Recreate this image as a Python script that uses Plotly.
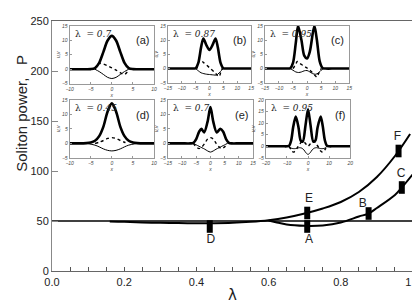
import plotly.graph_objects as go

# ---------------- main chart data ----------------
lam_upper = [0.16, 0.2, 0.25, 0.3, 0.35, 0.4, 0.45, 0.5, 0.55, 0.6, 0.65, 0.7, 0.75, 0.8, 0.85, 0.9, 0.95, 0.992]
P_upper = [49.5, 49.2, 48.6, 48.2, 47.9, 47.8, 47.8, 48.2, 49.2, 50.8, 53.5, 57.5, 62.5, 69, 79, 94, 115, 137]

lam_lower = [0.6, 0.62, 0.65, 0.7, 0.75, 0.8, 0.85, 0.877, 0.9, 0.95, 0.969, 1.0]
P_lower = [50.5, 48.8, 46.5, 45.2, 45.6, 48.5, 54.5, 57.5, 63, 76, 83.5, 97]

lam_ref = [0.0, 1.0]
P_ref = [50, 50]

mark_labels = ["D", "A", "E", "B", "C", "F"]
mark_lam = [0.437, 0.707, 0.707, 0.877, 0.969, 0.96]
mark_P = [44.5, 44.5, 58, 57.5, 83.5, 120]
label_lam = [0.44, 0.712, 0.712, 0.861, 0.967, 0.957]
label_P = [31, 31, 72, 67.5, 97, 134]

x_ticks = [0.0, 0.2, 0.4, 0.6, 0.8, 1.0]
x_tick_text = ["0.0", "0.2", "0.4", "0.6", "0.8", "1.0"]
y_ticks = [0, 50, 100, 150, 200, 250]

# ---------------- inset data ----------------
# (a) lambda = 0.7
xa_u = [-10, -8, -6, -5, -4, -3, -2, -1, 0, 1, 2, 3, 4, 5, 6, 8, 10]
ua = [0, 0, 0, 0.05, 0.4, 2.2, 6.0, 9.9, 11.5, 9.9, 6.0, 2.2, 0.4, 0.05, 0, 0, 0]
xa_v = [-4, -3.5, -3, -2, -1, 0, 1, 2, 3, 3.5, 4]
va = [0, 1.4, 2.0, 1.8, 1.2, 0.5, -0.3, -1.2, -1.8, -1.2, 0]
xa_w = [-4, -3, -2, -1, 0, 1, 2, 3, 4]
wa = [0, -0.8, -1.8, -2.8, -3.2, -2.8, -1.8, -0.8, 0]

# (b) lambda = 0.87
xb_u = [-15, -10, -6, -5, -4, -3, -2.2, -1, 0, 1, 2.2, 3, 4, 5, 6, 10, 15]
ub = [0, 0, 0, 0.1, 2.0, 7.5, 10.5, 8.0, 6.5, 8.0, 10.5, 7.5, 2.0, 0.1, 0, 0, 0]
xb_v = [-4.5, -4, -3.5, -2, 0, 2, 3, 3.5, 4, 4.5]
vb = [0, 2.0, 3.0, 2.0, 0.3, -1.5, -2.5, -2.8, -1.5, 0]
xb_w = [-5, -4, -3, -2, -1, 0, 1, 2, 2.5, 3, 4, 5]
wb = [0, -0.8, -1.5, -1.8, -2.0, -2.1, -2.2, -2.3, -2.3, -2.0, -1.0, 0]

# (c) lambda = 0.95
xc_u = [-15, -10, -7, -6, -5, -4, -3.2, -2, -1, 0, 1, 2.6, 3.5, 4.5, 5.5, 6.5, 10, 15]
uc = [0, 0, 0, 0.1, 2, 9, 15, 10, 4.5, 3.5, 6, 15, 10, 2.5, 0.2, 0, 0, 0]
xc_v = [-5, -4, -3.5, -3, -2, -1, 0, 1, 2, 3, 3.5, 4, 5]
vc = [0, 1.5, 2.5, 2.2, 1.4, 0.8, 0.2, -0.6, -1.5, -2.6, -3.0, -2.0, 0]
xc_w = [-6, -5, -4, -3, -2, -1, 0, 1, 2, 3, 4, 5, 6]
wc = [0, -0.6, -1.2, -1.4, -1.2, -0.8, -0.7, -1.2, -1.8, -2.0, -1.6, -0.6, 0]

# (d) lambda = 0.45
xd_u = [-10, -8, -6, -5, -4, -3, -2, -1, 0, 1, 2, 3, 4, 5, 6, 8, 10]
ud = [0, 0, 0.1, 0.3, 0.9, 2.5, 5.8, 11.0, 13.8, 11.0, 5.8, 2.5, 0.9, 0.3, 0.1, 0, 0]
xd_v = [-4, -3, -2, -1, 0, 1, 2, 3, 4]
vd = [0, 0.4, 1.0, 1.7, 2.0, 1.7, 1.0, 0.4, 0]
xd_w = [-6, -4, -3, -2, -1, 0, 1, 2, 3, 4, 6]
wd = [0, -0.6, -1.2, -1.9, -2.4, -2.6, -2.4, -1.9, -1.2, -0.6, 0]

# (e) lambda = 0.7
xe_u = [-15, -10, -7, -6, -5, -4, -3.2, -2.2, -1, 0, 1, 2.2, 3.5, 4.5, 5.5, 6.5, 7.5, 10, 15]
ue = [0, 0, 0, 0.2, 1.5, 4.0, 5.0, 3.8, 7.5, 12.5, 7.5, 3.8, 5.0, 4.0, 1.5, 0.2, 0, 0, 0]
xe_v = [-6, -5, -4, -3, -2, -1, 0, 1, 2, 3, 4, 5, 6]
ve = [0, -1.2, -1.8, -1.2, 0, 1.5, 2.0, 1.5, 0, -1.2, -1.8, -1.2, 0]
xe_w = [-6, -5, -4, -3, -2, -1, 0, 1, 2, 3, 4, 5, 6]
we = [0, -0.5, -1.0, -1.5, -2.0, -2.6, -3.0, -2.6, -2.0, -1.5, -1.0, -0.5, 0]

# (f) lambda = 0.95
xf_u = [-20, -12, -10, -9, -8, -7, -5.8, -4.5, -3.5, -2.5, -1.2, 0, 1.2, 2.5, 3.5, 4.5, 6, 7, 8, 9, 10, 12, 20]
uf = [0, 0, 0, 0.2, 2.5, 8.5, 12.8, 8, 2.5, 2, 9, 16, 9, 2, 2.5, 8, 12.8, 8.5, 2.5, 0.2, 0, 0, 0]
xf_v = [-9, -8, -7, -6, -5, -4, -3, -2, -1, 0, 1, 2, 3, 4, 5, 6, 7, 8, 9]
vf = [0, -1.5, -2.5, -2.0, -0.5, 0.8, 2.0, 2.0, 1.0, 0, 1.0, 2.0, 2.0, 0.8, -0.5, -2.0, -2.5, -1.5, 0]
xf_w = [-9, -8, -7, -6, -5, -4, -3, -2, -1, 0, 1, 2, 3, 4, 5, 6, 7, 8, 9]
wf = [0, -0.8, -1.0, -1.0, -0.8, -0.6, -0.8, -1.5, -2.8, -3.5, -2.8, -1.5, -0.8, -0.6, -0.8, -1.0, -1.0, -0.8, 0]

inset_tags = ["(a)", "(b)", "(c)", "(d)", "(e)", "(f)"]
inset_lams = ["0.7", "0.87", "0.95", "0.45", "0.7", "0.95"]
inset_xrange = [[-10, 10], [-15, 15], [-15, 15], [-10, 10], [-15, 15], [-20, 20]]
inset_xticks = [[-10, -5, 0, 5, 10], [-15, -10, -5, 0, 5, 10, 15], [-15, -10, -5, 0, 5, 10, 15],
                [-10, -5, 0, 5, 10], [-15, -10, -5, 0, 5, 10, 15], [-20, -10, 0, 10, 20]]
inset_yrange = [[-5, 15], [-5, 15], [-5, 15], [-5, 15], [-5, 15], [-5, 20]]
inset_yticks = [[-5, 0, 5, 10, 15]] * 5 + [[-5, 0, 5, 10, 15, 20]]
inset_data = [
    (xa_u, ua, xa_v, va, xa_w, wa),
    (xb_u, ub, xb_v, vb, xb_w, wb),
    (xc_u, uc, xc_v, vc, xc_w, wc),
    (xd_u, ud, xd_v, vd, xd_w, wd),
    (xe_u, ue, xe_v, ve, xe_w, we),
    (xf_u, uf, xf_v, vf, xf_w, wf),
]

# ---------------- layout geometry (pixels) ----------------
W, H = 420, 300
PL, PR, PT, PB = 44, 412, 7, 270  # main plot area


def px_x(p):
    return (p - PL) / (PR - PL)


def px_y(p):
    return (PB - p) / (PB - PT)


inset_boxes = [  # left, right, top, bottom in pixels
    (62, 148, 12, 73), (162, 247, 12, 72), (261, 347, 12, 72),
    (62, 148, 90, 151), (162, 249, 90, 151), (262, 348, 90, 151),
]

FONT = "Liberation Sans"
fig = go.Figure()

# main traces
fig.add_trace(go.Scatter(x=lam_ref, y=P_ref, mode="lines", line=dict(color="black", width=1.3),
                         showlegend=False, hoverinfo="skip"))
fig.add_trace(go.Scatter(x=lam_upper, y=P_upper, mode="lines", line=dict(color="black", width=2, shape="spline"),
                         showlegend=False))
fig.add_trace(go.Scatter(x=lam_lower, y=P_lower, mode="lines", line=dict(color="black", width=2, shape="spline"),
                         showlegend=False))
fig.add_trace(go.Scatter(x=mark_lam, y=mark_P, mode="markers",
                         marker=dict(symbol="line-ns", size=9, color="black", line=dict(width=6, color="black")),
                         showlegend=False))
fig.add_trace(go.Scatter(x=label_lam, y=label_P, mode="text", text=mark_labels,
                         textfont=dict(family=FONT, size=12, color="#222"), showlegend=False))

layout = dict(
    width=W, height=H, autosize=False,
    margin=dict(l=PL, r=W - PR, t=PT, b=H - PB, pad=0),
    paper_bgcolor="white", plot_bgcolor="white",
    font=dict(family=FONT, color="#222"),
    xaxis=dict(range=[0, 1], tickvals=x_ticks, ticktext=x_tick_text, ticks="inside", ticklen=4,
               tickcolor="#555", showgrid=False, zeroline=False, showline=True, linecolor="#666",
               linewidth=1, mirror=True, tickfont=dict(size=11, family=FONT, color="#222"),
               ticklabelstandoff=1,
               title=dict(text="λ", standoff=2, font=dict(size=15, family="DejaVu Sans", color="#222")),
               minor=dict(dtick=0.05, ticks="inside", ticklen=4, tickcolor="#555", showgrid=False)),
    yaxis=dict(range=[0, 250], tickvals=y_ticks, ticks="inside", ticklen=6, tickcolor="#888",
               showgrid=False, zeroline=False, showline=True, linecolor="#888", linewidth=1,
               mirror=True, tickfont=dict(size=11, family=FONT, color="#222")),
    annotations=[
        dict(text="Soliton power,   P", x=px_x(13), y=px_y(104), xref="paper", yref="paper",
             xanchor="center", yanchor="middle",
             textangle=-90, showarrow=False, font=dict(size=15, family=FONT, color="#222")),
    ],
)

for i, (box, data) in enumerate(zip(inset_boxes, inset_data)):
    n = i + 2
    xa_name, ya_name = f"xaxis{n}", f"yaxis{n}"
    xr, yr = f"x{n}", f"y{n}"
    l, r, t, b = box
    xu, u, xv, v, xw, w = data
    fig.add_trace(go.Scatter(x=xw, y=w, xaxis=xr, yaxis=yr, mode="lines",
                             line=dict(color="black", width=1, shape="spline", smoothing=0.8),
                             showlegend=False))
    fig.add_trace(go.Scatter(x=xv, y=v, xaxis=xr, yaxis=yr, mode="lines",
                             line=dict(color="black", width=1.4, dash="dot", shape="spline", smoothing=0.8),
                             showlegend=False))
    fig.add_trace(go.Scatter(x=xu, y=u, xaxis=xr, yaxis=yr, mode="lines",
                             line=dict(color="black", width=2.6, shape="spline", smoothing=0.8),
                             showlegend=False))
    layout[xa_name] = dict(domain=[px_x(l), px_x(r)], anchor=yr, range=inset_xrange[i],
                           tickvals=inset_xticks[i], ticks="inside", ticklen=2, tickcolor="#999",
                           showgrid=False, zeroline=False, showline=True, linecolor="#999",
                           linewidth=1, mirror=True,
                           tickfont=dict(size=5, family=FONT, color="#444", style="italic"),
                           title=dict(text="x", font=dict(size=5, family=FONT, color="#444", style="italic"),
                                      standoff=1))
    layout[ya_name] = dict(domain=[px_y(b), px_y(t)], anchor=xr, range=inset_yrange[i],
                           tickvals=inset_yticks[i], ticks="inside", ticklen=2, tickcolor="#999",
                           showgrid=False, zeroline=False, showline=True, linecolor="#999",
                           linewidth=1, mirror=True,
                           tickfont=dict(size=5, family=FONT, color="#444", style="italic"),
                           title=dict(text="u,v", font=dict(size=5, family=FONT, color="#444", style="italic"),
                                      standoff=1))
    layout["annotations"].append(dict(
        text="λ  = <i>" + inset_lams[i] + "</i>", x=px_x(l + 3), y=px_y(t + 1), xref="paper", yref="paper",
        xanchor="left", yanchor="top", showarrow=False, font=dict(size=9, family="DejaVu Serif", color="#222")))
    layout["annotations"].append(dict(
        text=inset_tags[i], x=px_x(r - 3), y=px_y(t + 7), xref="paper", yref="paper",
        xanchor="right", yanchor="top", showarrow=False, font=dict(size=11, family=FONT, color="#222")))

fig.update_layout(**layout)
fig.write_html("out.html")
